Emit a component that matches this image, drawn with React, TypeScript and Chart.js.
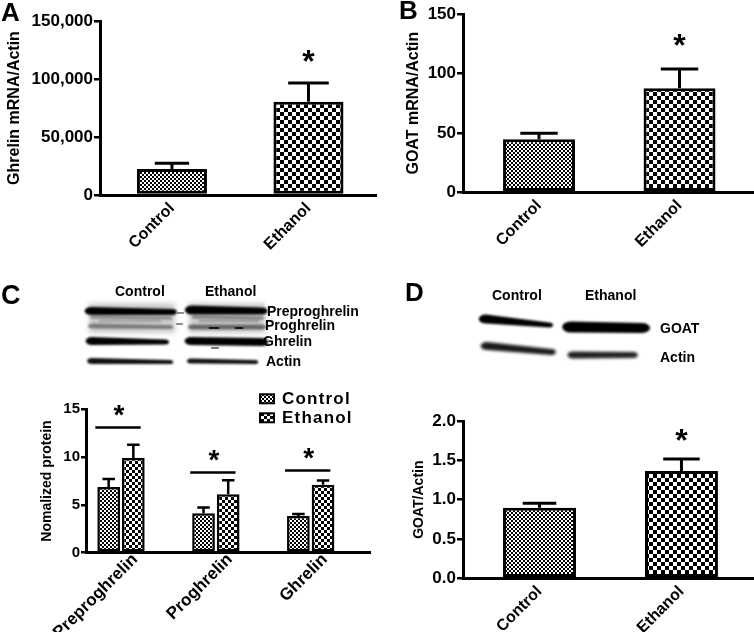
import React, { useEffect, useRef } from 'react';
import { Chart, registerables } from 'chart.js';

Chart.register(...registerables);

const FONT = '"Liberation Sans", Arial, Helvetica, sans-serif';
Chart.defaults.font.family = FONT;
Chart.defaults.color = '#000';

// ---- Panel A: Ghrelin mRNA/Actin ----
const groupLabels = ['Control', 'Ethanol'];
const ghrelinMrna = [22400, 80400];
const ghrelinMrnaErr = [4900, 16100];
const ghrelinMrnaTicks = [0, 50000, 100000, 150000];

// ---- Panel B: GOAT mRNA/Actin ----
const goatMrna = [44.6, 87.5];
const goatMrnaErr = [5.1, 16.3];
const goatMrnaTicks = [0, 50, 100, 150];

// ---- Panel C: Normalized protein ----
const proteinLabels = ['Preproghrelin', 'Proghrelin', 'Ghrelin'];
const proteinControl = [6.86, 4.13, 3.85];
const proteinControlErr = [0.84, 0.6, 0.2];
const proteinEthanol = [9.9, 6.12, 7.1];
const proteinEthanolErr = [1.4, 1.47, 0.45];
const proteinSigBar = [13.1, 8.4, 8.6];
const proteinTicks = [0, 5, 10, 15];

// ---- Panel D: GOAT/Actin ----
const goatProtein = [0.898, 1.365];
const goatProteinErr = [0.056, 0.153];
const goatProteinTicks = [0, 0.5, 1.0, 1.5, 2.0];

function makePattern(ctx: CanvasRenderingContext2D, cell: number) {
  const c = document.createElement('canvas');
  c.width = cell * 2;
  c.height = cell * 2;
  const g = c.getContext('2d')!;
  g.fillStyle = '#fff';
  g.fillRect(0, 0, cell * 2, cell * 2);
  g.fillStyle = '#000';
  g.fillRect(0, 0, cell, cell);
  g.fillRect(cell, cell, cell, cell);
  return ctx.createPattern(c, 'repeat')!;
}

function drawStar(ctx: CanvasRenderingContext2D, x: number, cy: number, size: number) {
  ctx.save();
  ctx.font = `bold ${size}px ${FONT}`;
  ctx.fillStyle = '#000';
  ctx.textAlign = 'center';
  ctx.textBaseline = 'alphabetic';
  const m = ctx.measureText('*');
  const off = (m.actualBoundingBoxAscent - m.actualBoundingBoxDescent) / 2;
  ctx.fillText('*', x, cy + off);
  ctx.restore();
}

const errorBarPlugin = {
  id: 'errorBars',
  afterDatasetsDraw(chart: any) {
    const ctx = chart.ctx;
    const y = chart.scales.y;
    chart.data.datasets.forEach((ds: any, di: number) => {
      if (!ds.errors) return;
      const meta = chart.getDatasetMeta(di);
      meta.data.forEach((bar: any, i: number) => {
        const raw = ds.data[i];
        const v = raw && typeof raw === 'object' ? raw.y : raw;
        const e = ds.errors[i];
        if (v == null || e == null) return;
        const top = y.getPixelForValue(v + e);
        const w = bar.width * (ds.capRatio ?? 0.5);
        ctx.save();
        ctx.strokeStyle = '#000';
        ctx.lineWidth = ds.errWidth ?? 3;
        ctx.beginPath();
        ctx.moveTo(bar.x, bar.y);
        ctx.lineTo(bar.x, top);
        ctx.moveTo(bar.x - w / 2, top);
        ctx.lineTo(bar.x + w / 2, top);
        ctx.stroke();
        ctx.restore();
      });
    });
  },
};

const starPlugin = {
  id: 'star',
  afterDatasetsDraw(chart: any, _a: any, opts: any) {
    if (!opts || opts.dataset == null) return;
    const ds = chart.data.datasets[opts.dataset];
    const bar = chart.getDatasetMeta(opts.dataset).data[0];
    const top = chart.scales.y.getPixelForValue(ds.data[0].y + ds.errors[0]);
    drawStar(chart.ctx, bar.x, top - opts.gap, opts.size);
  },
};

const sigPlugin = {
  id: 'sig',
  afterDatasetsDraw(chart: any, _a: any, opts: any) {
    if (!opts || !opts.heights) return;
    const ctx = chart.ctx;
    const y = chart.scales.y;
    const m0 = chart.getDatasetMeta(0);
    const m1 = chart.getDatasetMeta(1);
    opts.heights.forEach((h: number, i: number) => {
      const b0 = m0.data[i];
      const b1 = m1.data[i];
      const left = b0.x - b0.width / 2 - 2;
      const right = b1.x + b1.width / 2 - 4;
      const py = y.getPixelForValue(h);
      ctx.save();
      ctx.strokeStyle = '#000';
      ctx.lineWidth = 2.5;
      ctx.beginPath();
      ctx.moveTo(left, py);
      ctx.lineTo(right, py);
      ctx.stroke();
      ctx.restore();
      drawStar(ctx, (left + right) / 2 + 1, py - 17, 28);
    });
  },
};

const legendPlugin = {
  id: 'patLegend',
  afterDraw(chart: any, _a: any, opts: any) {
    if (!opts || !opts.show) return;
    const ctx = chart.ctx;
    const ca = chart.chartArea;
    const x0 = ca.left + 174;
    const y0 = ca.top - 15;
    chart.data.datasets.forEach((ds: any, i: number) => {
      const yy = y0 + i * 19;
      ctx.save();
      ctx.fillStyle = ds.backgroundColor;
      ctx.fillRect(x0, yy, 14, 9);
      ctx.strokeStyle = '#000';
      ctx.lineWidth = 2;
      ctx.strokeRect(x0, yy, 14, 9);
      ctx.font = `bold 17px ${FONT}`;
      (ctx as any).letterSpacing = '1.2px';
      ctx.fillStyle = '#000';
      ctx.textBaseline = 'middle';
      ctx.textAlign = 'left';
      ctx.fillText(ds.label, x0 + 22, yy + 5);
      ctx.restore();
    });
  },
};

type TwoBarSpec = {
  values: number[];
  errors: number[];
  ticks: number[];
  fmt: (v: number) => string;
  title: string;
  titleSize: number;
  titlePad: number;
  tickSize: number;
  yWidth: number;
  xHeight: number;
  padTop: number;
  xMin: number;
  xMax: number;
  barPct: number;
  starGap: number;
  caps: number[];
};

function twoBar(canvas: HTMLCanvasElement, s: TwoBarSpec) {
  const ctx = canvas.getContext('2d')!;
  const fills = [makePattern(ctx, 2), makePattern(ctx, 4)];
  return new Chart(ctx, {
    type: 'bar',
    data: {
      datasets: groupLabels.map((name, i) => ({
        label: name,
        data: [{ x: i, y: s.values[i] }],
        errors: [s.errors[i]],
        capRatio: s.caps[i],
        backgroundColor: fills[i],
        borderColor: '#000',
        borderWidth: 3,
        borderSkipped: false,
        grouped: false,
        categoryPercentage: 1,
        barPercentage: s.barPct,
      })) as any,
    },
    options: {
      responsive: false,
      animation: false,
      devicePixelRatio: 1,
      layout: { padding: { top: s.padTop, right: 0, left: 0, bottom: 0 } },
      plugins: {
        legend: { display: false },
        tooltip: { enabled: false },
        star: { dataset: 1, gap: s.starGap, size: 32 },
      } as any,
      scales: {
        x: {
          type: 'linear',
          offset: false,
          min: s.xMin,
          max: s.xMax,
          afterBuildTicks: (sc: any) => {
            sc.ticks = groupLabels.map((_, i) => ({ value: i }));
          },
          afterFit: (sc: any) => {
            sc.height = s.xHeight;
          },
          ticks: {
            callback: (v: any) => groupLabels[v] ?? '',
            minRotation: 45,
            maxRotation: 45,
            autoSkip: false,
            font: { family: FONT, size: 16, weight: 'bold' },
            color: '#000',
            padding: 4,
          },
          grid: { display: false, drawTicks: false, offset: false },
          border: { display: true, color: '#000', width: 3 },
        },
        y: {
          min: s.ticks[0],
          max: s.ticks[s.ticks.length - 1],
          afterBuildTicks: (sc: any) => {
            sc.ticks = s.ticks.map((v) => ({ value: v }));
          },
          afterFit: (sc: any) => {
            sc.width = s.yWidth;
          },
          ticks: {
            callback: (v: any) => s.fmt(Number(v)),
            font: { family: FONT, size: s.tickSize, weight: 'bold' },
            color: '#000',
            padding: 1,
          },
          grid: {
            display: true,
            drawOnChartArea: false,
            drawTicks: true,
            tickLength: 6,
            color: '#000',
            lineWidth: 2.5,
          },
          border: { display: true, color: '#000', width: 3 },
          title: {
            display: true,
            text: s.title,
            font: { family: FONT, size: s.titleSize, weight: 'bold' },
            color: '#000',
            padding: { top: s.titlePad, bottom: 0 },
          },
        },
      } as any,
    },
    plugins: [errorBarPlugin, starPlugin],
  });
}

function buildC(canvas: HTMLCanvasElement) {
  const ctx = canvas.getContext('2d')!;
  const series = [
    { label: 'Control', values: proteinControl, errors: proteinControlErr, fill: makePattern(ctx, 2) },
    { label: 'Ethanol', values: proteinEthanol, errors: proteinEthanolErr, fill: makePattern(ctx, 3) },
  ];
  return new Chart(ctx, {
    type: 'bar',
    data: {
      datasets: series.map((s) => ({
        label: s.label,
        data: s.values.map((v, i) => ({ x: i, y: v })),
        errors: s.errors,
        capRatio: 0.55,
        errWidth: 2.5,
        backgroundColor: s.fill,
        borderColor: '#000',
        borderWidth: 2.5,
        borderSkipped: false,
        categoryPercentage: 0.52,
        barPercentage: 0.92,
      })) as any,
    },
    options: {
      responsive: false,
      animation: false,
      devicePixelRatio: 1,
      layout: { padding: { top: 29.3, right: 7, left: 0, bottom: 0 } },
      plugins: {
        legend: { display: false },
        tooltip: { enabled: false },
        sig: { heights: proteinSigBar },
        patLegend: { show: true },
      } as any,
      scales: {
        x: {
          type: 'linear',
          offset: false,
          min: -0.369,
          max: 2.625,
          afterBuildTicks: (sc: any) => {
            sc.ticks = proteinLabels.map((_, i) => ({ value: i }));
          },
          afterFit: (sc: any) => {
            sc.height = 79.3;
          },
          ticks: {
            callback: (v: any) => proteinLabels[v] ?? '',
            minRotation: 45,
            maxRotation: 45,
            autoSkip: false,
            labelOffset: 14,
            font: { family: FONT, size: 17, weight: 'bold' },
            color: '#000',
            padding: -3,
          },
          grid: { display: false, drawTicks: false, offset: false },
          border: { display: true, color: '#000', width: 3 },
        },
        y: {
          min: 0,
          max: 15,
          afterBuildTicks: (sc: any) => {
            sc.ticks = proteinTicks.map((v) => ({ value: v }));
          },
          afterFit: (sc: any) => {
            sc.width = 86;
          },
          ticks: {
            font: { family: FONT, size: 15, weight: 'bold' },
            color: '#000',
            padding: 1,
          },
          grid: {
            display: true,
            drawOnChartArea: false,
            drawTicks: true,
            tickLength: 5,
            color: '#000',
            lineWidth: 2.5,
          },
          border: { display: true, color: '#000', width: 3 },
          title: {
            display: true,
            text: 'Nomalized protein',
            font: { family: FONT, size: 14, weight: 'bold' },
            color: '#000',
            padding: { top: 39, bottom: 0 },
          },
        },
      } as any,
    },
    plugins: [errorBarPlugin, sigPlugin, legendPlugin],
  });
}

function band(
  ctx: CanvasRenderingContext2D,
  x1: number, x2: number, y1: number, y2: number,
  t1: number, t2: number, color: string, blur: number
) {
  ctx.save();
  ctx.filter = `blur(${blur}px)`;
  ctx.fillStyle = color;
  ctx.beginPath();
  ctx.moveTo(x1, y1 - t1 / 2);
  ctx.lineTo(x2, y2 - t2 / 2);
  ctx.ellipse(x2, y2, t2 * 0.8, t2 / 2, 0, -Math.PI / 2, Math.PI / 2);
  ctx.lineTo(x1, y1 + t1 / 2);
  ctx.ellipse(x1, y1, t1 * 0.8, t1 / 2, 0, Math.PI / 2, (3 * Math.PI) / 2);
  ctx.closePath();
  ctx.fill();
  ctx.restore();
}

function drawBlots(canvas: HTMLCanvasElement) {
  const ctx = canvas.getContext('2d')!;
  ctx.clearRect(0, 0, canvas.width, canvas.height);
  // Panel C blot: background smear of the upper bands
  ctx.save();
  ctx.filter = 'blur(2.5px)';
  ctx.fillStyle = 'rgba(0,0,0,0.2)';
  ctx.fillRect(89, 303, 86, 30);
  ctx.fillRect(189, 303, 76, 30);
  ctx.restore();
  // mottled streaks
  band(ctx, 92, 170, 317, 318, 3, 3, 'rgba(0,0,0,0.35)', 1.2);
  band(ctx, 194, 262, 317, 318, 3, 3, 'rgba(0,0,0,0.4)', 1.2);
  band(ctx, 100, 160, 321, 321, 2, 2, 'rgba(0,0,0,0.25)', 1);
  band(ctx, 200, 258, 321, 321, 2, 2, 'rgba(0,0,0,0.3)', 1);
  // Preproghrelin
  band(ctx, 91, 172, 311, 312, 8, 6, '#000', 1);
  band(ctx, 192, 262, 310, 311, 9, 7, '#000', 1);
  // Proghrelin
  band(ctx, 92, 170, 326, 327, 5, 4, 'rgba(0,0,0,0.4)', 1.3);
  band(ctx, 192, 262, 327, 327, 5, 5, 'rgba(0,0,0,0.5)', 1.3);
  // tiny marks between lanes
  band(ctx, 178, 183, 313, 313, 1.5, 1.5, 'rgba(0,0,0,0.6)', 0.4);
  band(ctx, 177, 182, 324, 324, 1.5, 1.5, 'rgba(0,0,0,0.6)', 0.4);
  band(ctx, 210, 218, 328, 328, 2, 2, 'rgba(0,0,0,0.8)', 0.4);
  band(ctx, 236, 242, 328, 328, 2, 2, 'rgba(0,0,0,0.8)', 0.4);
  // Ghrelin
  band(ctx, 92, 165, 341, 342, 8, 5, '#000', 1);
  band(ctx, 191, 262, 341, 342, 8, 8, '#000', 1);
  band(ctx, 212, 218, 348, 348, 1.5, 1.5, 'rgba(0,0,0,0.7)', 0.4);
  // Actin
  band(ctx, 92, 170, 361, 362, 6, 4, '#111', 1);
  band(ctx, 191, 255, 361, 362, 5, 4, '#111', 1);

  // Panel D blot
  band(ctx, 486, 549, 319, 325, 9, 5, '#000', 1.2);
  band(ctx, 571, 642, 327, 328, 11, 10, '#000', 1.2);
  band(ctx, 487, 551, 346, 352, 8, 6, '#1a1a1a', 1.8);
  band(ctx, 573, 633, 355, 355, 7, 6, '#222', 1.8);
}

type TextProps = { x: number; cy: number; size: number; children: React.ReactNode };
function Label({ x, cy, size, children }: TextProps) {
  return (
    <div
      style={{
        position: 'absolute',
        left: x,
        top: cy - 0.49 * size,
        fontSize: size,
        lineHeight: 1,
        fontWeight: 'bold',
        fontFamily: FONT,
        whiteSpace: 'nowrap',
        color: '#000',
      }}
    >
      {children}
    </div>
  );
}

export default function App() {
  const aRef = useRef<HTMLCanvasElement>(null);
  const bRef = useRef<HTMLCanvasElement>(null);
  const cRef = useRef<HTMLCanvasElement>(null);
  const dRef = useRef<HTMLCanvasElement>(null);
  const blotRef = useRef<HTMLCanvasElement>(null);

  useEffect(() => {
    const charts: Chart[] = [];
    charts.push(
      twoBar(aRef.current!, {
        values: ghrelinMrna,
        errors: ghrelinMrnaErr,
        ticks: ghrelinMrnaTicks,
        fmt: (v) => v.toLocaleString('en-US'),
        title: 'Ghrelin mRNA/Actin',
        titleSize: 16,
        titlePad: 5,
        tickSize: 17,
        yWidth: 100,
        xHeight: 85,
        padTop: 21,
        xMin: -0.527,
        xMax: 1.502,
        barPct: 0.513,
        starGap: 27,
        caps: [0.49, 0.58],
      })
    );
    charts.push(
      twoBar(bRef.current!, {
        values: goatMrna,
        errors: goatMrnaErr,
        ticks: goatMrnaTicks,
        fmt: (v) => String(v),
        title: 'GOAT mRNA/Actin',
        titleSize: 16,
        titlePad: 27,
        tickSize: 17,
        yWidth: 86,
        xHeight: 87.7,
        padTop: 14,
        xMin: -0.541,
        xMax: 1.53,
        barPct: 0.512,
        starGap: 29,
        caps: [0.52, 0.52],
      })
    );
    charts.push(buildC(cRef.current!));
    charts.push(
      twoBar(dRef.current!, {
        values: goatProtein,
        errors: goatProteinErr,
        ticks: goatProteinTicks,
        fmt: (v) => v.toFixed(1),
        title: 'GOAT/Actin',
        titleSize: 14,
        titlePad: 34,
        tickSize: 17,
        yWidth: 86,
        xHeight: 53.7,
        padTop: 31,
        xMin: -0.539,
        xMax: 1.511,
        barPct: 0.514,
        starGap: 24,
        caps: [0.46, 0.5],
      })
    );
    drawBlots(blotRef.current!);
    return () => charts.forEach((c) => c.destroy());
  }, []);

  const abs = (l: number, t: number): React.CSSProperties => ({ position: 'absolute', left: l, top: t });

  return (
    <div
      style={{
        position: 'absolute',
        left: 0,
        top: 0,
        width: 754,
        height: 632,
        background: '#fff',
        overflow: 'hidden',
        fontFamily: FONT,
      }}
    >
      <canvas ref={blotRef} width={754} height={632} style={abs(0, 0)} />
      <canvas ref={aRef} width={377} height={280} style={abs(0, 0)} />
      <canvas ref={bRef} width={377} height={280} style={abs(377, 0)} />
      <canvas ref={cRef} width={377} height={252} style={abs(0, 380)} />
      <canvas ref={dRef} width={377} height={242} style={abs(377, 390)} />

      <Label x={1} cy={12} size={26}>A</Label>
      <Label x={399} cy={10} size={26}>B</Label>
      <Label x={1} cy={295} size={27}>C</Label>
      <Label x={405} cy={292} size={26}>D</Label>

      <Label x={115} cy={291} size={14}>Control</Label>
      <Label x={205} cy={291} size={14}>Ethanol</Label>
      <Label x={267} cy={311} size={14}>Preproghrelin</Label>
      <Label x={265} cy={325} size={14}>Proghrelin</Label>
      <Label x={263} cy={341} size={14}>Ghrelin</Label>
      <Label x={266} cy={361} size={14}>Actin</Label>

      <Label x={492} cy={295} size={14}>Control</Label>
      <Label x={585} cy={295} size={14}>Ethanol</Label>
      <Label x={660} cy={328} size={14}>GOAT</Label>
      <Label x={660} cy={357} size={14}>Actin</Label>
    </div>
  );
}
